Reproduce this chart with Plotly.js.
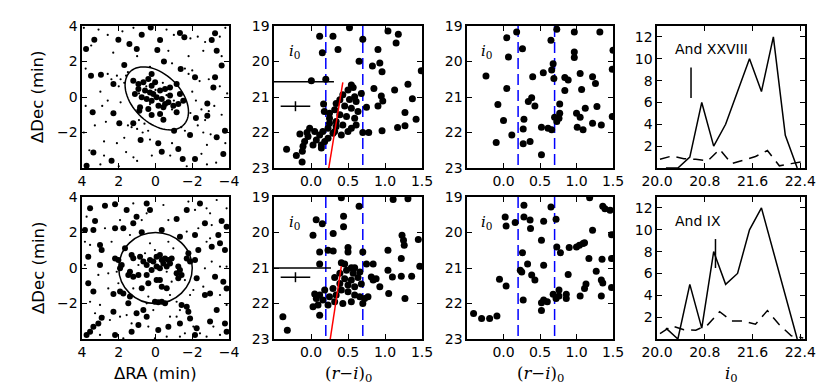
<!DOCTYPE html>
<html>
<head>
<meta charset="utf-8">
<script src="https://cdn.plot.ly/plotly-3.0.1.min.js"></script>
<style>
  html, body { margin: 0; padding: 0; background: #fff; }
  #chart { width: 830px; height: 391px; }
</style>
</head>
<body>
<div id="chart"></div>
<script>
/**************************************************************************/
/* Data                                               */
/**************************************************************************/

// And XXVIII field: bright and faint stars (dRA, dDec in arcmin)
const f1BrightX = [3.78, 3.33, 2.02, 1.42, 1.02, 0.75, 0.26, -0.10, -0.25, -1.33, -1.57, -3.24, -3.06, -3.33,
  1.70, -0.46, -1.37, -3.60, 3.51, 2.97, 2.29, -3.24, -3.15, -2.15, 3.42, 2.29, 1.97, 1.21, 0.88, 0.21,
  -0.43, -1.01, -1.88, -2.20, -2.82, -2.82, -3.78, -3.33, 0.81, -0.15, -0.34, -1.24, -1.48, 3.38, 2.39,
  3.75, -2.15, -3.69,
  1.21, 0.93, 0.66, 0.39, 0.21, 0.02, 0.57, 0.30, 0.12, -0.25, -0.52, -0.79, 0.75, 0.48, 0.21, -0.06,
  -0.34, -0.52, -0.70, -0.43, -0.16, -0.97, -1.24, -1.33, -1.15, 0.39, 0.93, 1.12, -1.51, -0.79, -0.25,
  0.84, 0.21, -1.15];
const f1BrightY = [2.70, 3.23, 3.23, 2.99, 2.70, 3.51, 3.92, 2.65, 3.21, 3.61, 3.36, 3.59, 3.21, 2.61,
  1.80, 2.00, 1.58, 1.77, 1.20, 1.26, 0.73, 1.11, 0.54, 1.11, -0.86, -0.92, -1.48, -1.48, -0.77, -1.01,
  -1.28, -1.90, -2.14, -1.18, -0.36, -1.05, -1.90, -2.27, -2.42, -2.61, -3.08, -2.93, -3.49, -3.12, -3.59,
  -3.87, -3.49, -3.21,
  0.92, 0.73, 0.83, 1.01, 0.64, 0.83, 0.36, 0.26, 0.17, 0.36, 0.45, 0.54, -0.02, -0.11, -0.21, -0.02,
  -0.11, -0.39, -0.30, -0.58, -0.49, -0.49, -0.39, 0.17, -0.86, -0.68, 0.45, 0.17, -0.21, 0.08, -0.96,
  -0.58, 1.30, 0.73];
const f1FaintX = [3.9, 3.1, 2.6, 1.8, 1.2, -0.6, -1.0, -1.9, -2.3, -2.7, -3.5, -3.8, 3.5, 2.3, 1.0, -0.7,
  -1.8, -2.6, -3.6, 3.8, 2.6, 2.1, 2.4, -2.0, -2.4, -2.9, -3.5, -3.9, 3.0, 2.6, 2.9, 3.8, -2.2, -2.5,
  -2.9, -3.2, -3.6, -2.7, 3.3, 2.7, 3.9, 1.5, 1.3, 1.0, 0.7, 0.4, -1.6, -2.3, -2.6, -3.0, 2.8, 2.1, 1.7,
  0.3, -0.9, -2.8, -3.8, 3.6, 2.8, 1.6, 1.2, 0.2, -0.8, -2.5, -3.3, 3.0, 2.0, 1.0, -1.7, -2.8,
  1.9, 1.7, 1.6, 1.5, 2.0, 1.9, -1.8, -1.6, -0.9, 0.3, -2.0, -1.9, -1.4, 0.6, 0.9,
  0.5, -0.4, -1.0, 0.0, 0.9, -0.6, 0.3, -0.9];
const f1FaintY = [3.9, 3.8, 3.5, 3.7, 3.9, 3.8, 3.5, 3.3, 3.4, 3.1, 3.4, 3.9, 2.9, 2.5, 2.3, 2.6,
  2.3, 2.6, 2.3, 1.6, 1.3, 1.2, 1.0, 1.5, 0.9, 1.0, 0.6, 0.2, 0.3, -0.2, -0.5, -0.5, -0.2, -0.7,
  -0.8, -0.5, -1.0, -1.3, -1.6, -1.4, -2.0, -1.6, -1.7, -1.8, -2.0, -1.9, -1.9, -1.6, -2.0, -2.1, -2.5, -2.6, -2.3,
  -2.4, -2.6, -2.7, -2.6, -3.0, -3.3, -3.1, -3.4, -3.3, -3.3, -3.2, -3.7, -3.8, -3.9, -3.6, -3.9, -3.8,
  1.0, 0.8, 1.2, 1.4, 0.6, -0.3, 1.3, 1.6, 1.9, 1.7, 0.3, -0.9, -1.7, -1.5, -1.3,
  0.6, 0.8, -0.2, 0.4, 0.2, 0.1, -0.4, -0.7];

// And IX field
const f2BrightX = [3.56, 3.29, 2.75, 2.20, 1.57, 1.03, 0.48, 0.30, -1.15, -1.70, -2.42, -2.69, -3.60, -3.87,
  3.84, 3.38, 2.20, 1.75, 1.21, 0.75, -0.34, -1.33, -2.15, -3.42, -2.33, -3.06, -3.51, -3.78,
  3.66, 3.02, 2.93, 3.02, 2.20, 1.66, 2.02, 3.66, 3.38, 2.29, 1.93, 1.75, 1.48, 1.39,
  1.30, 1.21, 0.84, 0.66, 0.48, 0.30, 0.12, -0.06, -0.24, -0.34, -0.52, -0.70, -0.79, -0.06, -0.24,
  -0.43, -0.61, -0.88, 0.21, 0.48, 0.93, 1.21, 1.48, -1.24, -1.33, -1.42, -1.24, -1.15, -0.24, -0.34,
  -0.61, -0.06, 0.39, 0.75, 1.39, 1.84, 1.93, -1.79, -1.70, -1.88, -2.15, -2.24,
  0.03, -0.15, -0.34, -0.52, -1.42, -1.70, -1.79, -1.88, -1.33,
  -3.24, -3.69, -2.97, -2.69, -3.87, -3.33,
  2.29, 2.93, 3.11, 3.38, 3.56, 1.03, 0.66, 0.48, 0.93, 1.30, -0.15, -0.70, -2.15, -2.24, -2.97,
  -3.78, -3.87, 2.20, 3.75];
const f2BrightY = [3.36, 2.65, 3.51, 3.59, 3.27, 2.89, 3.64, 3.27, 2.76, 3.27, 3.64, 2.52, 2.65, 2.33,
  2.14, 2.14, 2.24, 2.24, 2.52, 2.01, 2.14, 1.76, 1.86, 1.86, 1.01, 1.20, 1.39, 1.01,
  0.64, 1.30, 1.01, 0.17, 0.54, 1.11, 0.45, -0.86, -1.33, -1.46, -1.33, -1.43, -1.99, -1.61,
  0.73, 0.55, 0.64, 0.36, 0.17, 0.45, 0.36, 0.64, 0.73, 0.45, 0.54, 0.45, 0.26, 0.08, -0.02,
  0.26, 0.08, 0.54, -0.11, -0.39, -0.39, -0.49, -0.39, 0.08, -0.11, -0.39, -0.58, -0.30, -0.68, -1.05,
  -1.14, -0.68, -0.86, -1.14, -0.21, 0.17, -0.02, 0.83, 0.54, 0.36, 0.45, -0.58,
  -1.90, -1.93, -1.90, -1.99, -2.08, -2.18, -2.46, -2.84, -3.12,
  -0.49, -0.77, -1.43, -1.52, -1.15, -2.37,
  -2.46, -2.80, -3.12, -3.31, -3.59, -2.55, -2.37, -2.74, -3.21, -3.59, -3.49, -3.31, -3.77, -3.40, -3.02,
  -3.12, -3.59, -3.77, -3.77];
const f2FaintX = [2.80, 1.21, 0.75, -0.43, -1.79, -2.15, -2.78, -2.97, -3.33, -3.87, 3.75, 2.75, 1.93, 0.48,
  -0.70, -1.70, -2.33, -3.06, 3.84, 3.56, 2.39, 1.39, 0.30, -0.70, -0.97, -2.78, -2.97, -3.87, 3.84,
  3.11, 2.57, 2.11, 0.93, 0.57, 0.03, -0.61, -0.88, -1.60, -2.06, -2.69, -3.06, -3.51, 2.57, 2.02, 1.21,
  0.39, 0.48, -0.79, -1.15, -1.88, -2.60, -3.51, -3.87, 3.56, 3.02, 3.29, 2.84, 2.48, 1.93, 1.57, 1.30,
  0.39, 0.12, -0.79, -1.15, -1.33, -2.06, -2.42, -2.78, -3.15, -3.51, 3.02, 1.75, 0.03, -0.61, -1.33, -1.60];
const f2FaintY = [3.55, 3.64, 2.70, 3.55, 3.74, 3.27, 3.36, 3.08, 3.83, 3.36, 2.89, 2.24, 2.70, 3.08,
  2.70, 2.05, 2.24, 2.42, 1.48, 1.30, 1.48, 1.86, 1.39, 1.48, 1.11, 1.48, 1.67, 0.08, 0.17,
  -0.39, -0.30, -0.21, 0.17, 0.83, 1.01, -0.21, -0.77, -0.68, -1.24, -0.02, 0.36, 0.08, -1.15, -0.86, -1.15,
  -1.61, -1.99, -1.52, -1.90, -1.52, -1.05, -1.52, -2.08, -1.90, -2.08, -2.55, -2.74, -2.93, -2.74, -2.65, -3.12,
  -3.30, -2.37, -2.74, -2.74, -2.37, -3.30, -3.68, -3.87, -3.30, -3.77, -3.77, -3.96, -3.96, -3.87, -3.87, -3.68];

// Selection regions
const ellipseCentre = [-0.07, -0.08];
const ellipseAxes = [2.09, 1.33];
const ellipseAngleDeg = 47;
const circleRadius = 2;

// CMD, And XXVIII: on-target stars (r-i)0, i0
const cmd1X = [0.117, 0.153, 0.297, 0.365, 0.52, 0.70, 1.04, 1.18, 1.15, 0.905, 0.65, 0.83, 0.93, 0.96, 1.49,
  0.005, 0.20, 0.85, 1.13, 1.31, 1.37, 1.27, 1.42, 0.95, 0.97, 0.905, 0.75, 0.96, 1.17, 1.27, 0.78, 0.70,
  0.545, 0.57, 0.50, 0.59, 0.43, 0.52, 0.61, 0.39, 0.455, 0.34, 0.545, 0.635, 0.68, 0.32, 0.39, 0.48, 0.59,
  0.25, 0.17, 0.18, 0.25, 0.34, 0.43, 0.545, 0.50, 0.41, 0.32, 0.23, 0.16, 0.117, 0.05, -0.018, 0.072, 0.14,
  0.027, -0.04, -0.086, -0.15, -0.054, -0.108, 0.14, 0.23, 0.297, 0.34, -0.33, -0.198, -0.117, -0.12, 0.185,
  0.25, 0.61];
const cmd1Y = [19.29, 19.75, 19.29, 19.66, 19.05, 19.37, 19.14, 19.23, 19.48, 19.66, 19.99, 20.13, 20.04, 20.29, 20.26,
  20.54, 20.50, 20.76, 20.80, 20.64, 21.05, 21.44, 21.63, 20.97, 21.11, 21.25, 21.29, 21.95, 21.86, 21.81, 22.0, 22.0,
  20.66, 20.73, 20.80, 20.99, 20.94, 21.07, 21.13, 21.08, 21.25, 21.18, 21.32, 21.41, 20.90, 21.36, 21.50, 21.55, 21.60,
  21.60, 21.20, 21.41, 21.46, 21.69, 21.79, 21.88, 21.97, 22.07, 21.97, 21.88, 21.97, 22.07, 21.97, 21.88, 22.21, 22.35,
  22.35, 22.11, 22.25, 22.04, 22.0, 22.39, 22.44, 22.16, 22.02, 21.83, 22.47, 22.65, 22.53, 22.83, 22.25,
  21.74, 21.79];

// CMD, And XXVIII: comparison field
const bg1X = [0.18, 0.045, 0.068, 0.26, 0.65, 0.73, 0.97, 1.32, 1.50, 0.97, 0.97, 0.68, 0.66, 0.545, 0.69,
  0.40, -0.24, 0.045, 0.84, 0.886, 1.05, 1.22, 1.26, 1.07, 0.84, 1.49, -0.077, 0.386, 0.34, 0.43, 0.77,
  0.77, 0.70, 0.73, 0.76, 1.12, 1.28, 1.0, 1.05, 1.49, 1.34, 1.22, 1.01, 1.09, 0.0, 0.28, 0.27, 0.52,
  0.61, 0.66, 0.114, -0.10, 0.27, 0.364, 0.52];
const bg1Y = [19.17, 19.33, 19.87, 19.64, 19.40, 19.09, 19.17, 19.17, 19.68, 19.73, 19.89, 20.06, 20.24, 20.32, 20.48,
  20.43, 20.41, 20.76, 20.45, 20.52, 20.34, 20.43, 20.62, 20.79, 20.82, 20.22, 21.21, 21.02, 21.13, 21.25, 21.20,
  21.46, 21.57, 21.69, 21.60, 21.32, 21.27, 21.46, 21.57, 21.55, 21.79, 21.74, 21.85, 21.92, 21.66, 21.63, 21.90, 21.85,
  21.88, 21.92, 22.07, 22.28, 22.32, 22.25, 22.63];

// CMD, And IX: on-target stars
const cmd2X = [0.07, 0.153, 0.027, 0.30, 0.41, 0.44, 0.44, 0.65, 1.11, 1.31, 1.23, 1.25, 1.26, 1.45, 1.22, 1.04,
  0.117, 0.23, 0.30, 0.117, 0.50, 0.50, 0.70, 0.75, 0.84, 1.47,
  0.41, 0.455, 0.545, 0.59, 0.48, 0.39, 0.57, 0.66, 0.32, 0.455, 0.545, 0.635, 0.39, 0.50, 0.59, 0.68,
  0.297, 0.41, 0.50, 0.59, 0.66, 0.725, 0.77, 0.34, 0.25, 0.16, 0.117, 0.072, 0.05, 0.095, 0.23, 0.32,
  0.43, 0.545, 0.70, 0.027, 0.117, 0.185, 0.815, 0.84, 0.88, 0.93, 1.10, 1.04, 1.22, 1.36, 1.05, 1.27,
  -0.38, -0.32];
const cmd2Y = [19.64, 19.75, 20.08, 20.03, 19.02, 19.54, 19.84, 19.26, 19.07, 19.05, 20.08, 20.22, 20.36, 20.20, 20.73, 20.50,
  20.55, 20.50, 20.52, 20.89, 20.42, 20.55, 20.55, 20.89, 20.89, 20.95,
  20.85, 20.89, 20.99, 20.99, 21.06, 21.15, 21.15, 21.11, 21.27, 21.30, 21.34, 21.27, 21.44, 21.48, 21.53, 21.45,
  21.58, 21.62, 21.67, 21.76, 21.81, 21.86, 21.81, 21.76, 21.81, 21.90, 21.76, 21.86, 21.73, 22.04, 22.04, 21.95,
  22.0, 21.95, 22.0, 22.09, 22.33, 21.62, 21.25, 21.34, 21.30, 21.53, 21.25, 21.06, 21.23, 21.23, 21.72, 21.86,
  22.37, 22.75];

// CMD, And IX: comparison field
const bg2X = [0.28, 0.023, 0.036, 0.16, 0.28, 0.364, 0.37, 0.55, 0.65, 0.72, 1.18, 1.36, 1.39, 1.46, 1.48, 1.22,
  0.52, 0.73, 0.78, 0.90, 1.0, 1.04, 1.09, 1.11, 0.26, 1.17, 1.35, 1.48, 0.33, 0.55, 0.23, 0.25, 0.386, 0.43,
  0.886, 1.27, 1.34, 1.36, 1.13, 1.11, 1.48, -0.055, 0.036, 0.76, 0.68, 0.72, 0.76, 0.86, 0.86, 1.05, 1.34,
  0.27, 0.52, 0.55, 0.60, 0.52, -0.41, -0.30, -0.19, -0.09];
const bg2Y = [19.23, 19.56, 19.82, 19.72, 19.56, 19.65, 19.89, 19.68, 19.28, 19.63, 19.02, 19.26, 19.33, 19.37, 20.06, 19.94,
  20.22, 20.41, 20.57, 20.42, 20.41, 20.36, 20.31, 20.29, 20.57, 20.73, 20.75, 20.73, 20.89, 20.92, 21.06, 21.11, 21.20, 21.34,
  21.18, 21.09, 21.34, 21.42, 21.45, 21.58, 21.55, 21.32, 21.51, 21.62, 21.74, 21.86, 21.79, 21.74, 21.86, 21.79, 21.79,
  21.90, 21.98, 21.90, 21.95, 22.20, 22.28, 22.42, 22.42, 22.35];

// Colour cuts and reference lines on the CMDs
const colourCuts = [0.2, 0.7];
const trgb1 = { x: [-0.5, 0.31], y: [20.57, 20.57] };
const trgb2 = { x: [-0.5, 0.27], y: [21.0, 21.0] };
const iso1 = { x: [0.24, 0.43], y: [23.0, 20.59] };
const iso2 = { x: [0.26, 0.41], y: [23.0, 20.95] };
const errCentre = { x: [-0.21], y: [21.26] };
const errSize = { x: [0.2], y: [0.14] };

// Luminosity functions: i0 bins, on-target counts (solid) and field (dashed)
const lfBins = [20.15, 20.35, 20.55, 20.75, 20.95, 21.15, 21.35, 21.55, 21.75, 21.95, 22.15, 22.35];
const lf1Counts = [0, 0, 1, 6, 2, 4, 7, 10, 7, 12, 3, 0];
const lf2Counts = [1, 0, 5, 1, 8, 5, 6, 10, 12, 8, 4, 0];
const lfFieldBins = [20.05, 20.25, 20.45, 20.65, 20.85, 21.05, 21.25, 21.45, 21.65, 21.85, 22.05, 22.25, 22.45];
const lf1Field = [0.8, 1.1, 0.85, 0.8, 0.65, 1.7, 0.4, 0.75, 1.05, 1.6, 0.2, 0.4, 0.6];
const lf2Field = [0.5, 1.2, 0.85, 0.8, 1.3, 2.5, 1.65, 1.65, 1.35, 2.6, 1.3, 0.3, 0.1];
const lfMark1 = { x: [20.57, 20.57], y: [6.4, 9.2] };
const lfMark2 = { x: [20.98, 20.98], y: [6.5, 9.15] };

/**************************************************************************/
/* Traces                                                                 */
/**************************************************************************/
const ink = "#000000";
const blue = "#0000ff";
const red = "#ff0000";

function stars(x, y, size, xa, ya) {
  return { x: x, y: y, xaxis: xa, yaxis: ya, type: "scatter", mode: "markers",
    marker: { color: ink, size: size, line: { width: 0 } }, hoverinfo: "skip" };
}
function seg(p, xa, ya, color, dash, width) {
  return { x: p.x, y: p.y, xaxis: xa, yaxis: ya, type: "scatter", mode: "lines",
    line: { color: color, width: width || 1.5, dash: dash || "solid" }, hoverinfo: "skip" };
}
function cutLines(xa, ya) {
  return colourCuts.map(c => seg({ x: [c, c], y: [19, 23] }, xa, ya, blue, "11px,5px", 1.5));
}
function errorCross(xa, ya) {
  return { x: errCentre.x, y: errCentre.y, xaxis: xa, yaxis: ya, type: "scatter", mode: "markers",
    marker: { size: 1, color: "rgba(0,0,0,0)" },
    error_x: { type: "data", array: errSize.x, width: 0, thickness: 1.5, color: ink },
    error_y: { type: "data", array: errSize.y, width: 0, thickness: 1.5, color: ink },
    hoverinfo: "skip" };
}

const traces = [
  stars(f1FaintX, f1FaintY, 2.2, "x", "y"),
  stars(f1BrightX, f1BrightY, 6, "x", "y"),
  ...cutLines("x2", "y2"),
  seg(trgb1, "x2", "y2", ink),
  errorCross("x2", "y2"),
  stars(cmd1X, cmd1Y, 7, "x2", "y2"),
  seg(iso1, "x2", "y2", red),
  ...cutLines("x3", "y3"),
  stars(bg1X, bg1Y, 7, "x3", "y3"),
  seg({ x: lfBins, y: lf1Counts }, "x4", "y4", ink),
  seg({ x: lfFieldBins, y: lf1Field }, "x4", "y4", ink, "10px,7px"),
  seg(lfMark1, "x4", "y4", ink),

  stars(f2FaintX, f2FaintY, 2.2, "x5", "y5"),
  stars(f2BrightX, f2BrightY, 6, "x5", "y5"),
  ...cutLines("x6", "y6"),
  seg(trgb2, "x6", "y6", ink),
  errorCross("x6", "y6"),
  stars(cmd2X, cmd2Y, 7, "x6", "y6"),
  seg(iso2, "x6", "y6", red),
  ...cutLines("x7", "y7"),
  stars(bg2X, bg2Y, 7, "x7", "y7"),
  seg({ x: lfBins, y: lf2Counts }, "x8", "y8", ink),
  seg({ x: lfFieldBins, y: lf2Field }, "x8", "y8", ink, "10px,7px"),
  seg(lfMark2, "x8", "y8", ink)
];

// Tilted selection ellipse as a path shape
let ellPath = "";
const th = ellipseAngleDeg * Math.PI / 180;
for (let k = 0; k <= 72; k++) {
  const t = 2 * Math.PI * k / 72;
  const ex = ellipseCentre[0] + ellipseAxes[0] * Math.cos(t) * Math.cos(th) - ellipseAxes[1] * Math.sin(t) * Math.sin(th);
  const ey = ellipseCentre[1] + ellipseAxes[0] * Math.cos(t) * Math.sin(th) + ellipseAxes[1] * Math.sin(t) * Math.cos(th);
  ellPath += (k === 0 ? "M" : "L") + ex.toFixed(3) + "," + ey.toFixed(3);
}
ellPath += "Z";

/**************************************************************************/
/* Layout                                                                 */
/**************************************************************************/
const W = 830, H = 391;
const colsPx = [[82, 229], [274, 422], [467, 613], [657, 805]];
const rowsPx = [[26, 168], [197, 339]];
const dx = c => [colsPx[c][0] / W, colsPx[c][1] / W];
const dy = r => [1 - rowsPx[r][1] / H, 1 - rowsPx[r][0] / H];

function axis(domain, range, tickvals, anchor, extra) {
  return Object.assign({
    domain: domain, range: range, tickvals: tickvals, anchor: anchor,
    ticks: "inside", ticklen: 5, tickwidth: 1, tickcolor: ink,
    showline: true, linewidth: 1.6, linecolor: ink, mirror: "allticks",
    showgrid: false, zeroline: false, fixedrange: true,
    tickfont: { family: "DejaVu Sans", size: 14, color: ink }
  }, extra || {});
}

const raTicks = [4, 2, 0, -2, -4];
const decTicks = [-2, 0, 2, 4];
const colTicks = [0, 0.5, 1.0, 1.5];
const magTicks = [19, 20, 21, 22, 23];
const lfXTicks = [20.0, 20.8, 21.6, 22.4];
const lfYTicks = [2, 4, 6, 8, 10, 12];

const layout = {
  width: W, height: H,
  margin: { l: 0, r: 0, t: 0, b: 0 },
  paper_bgcolor: "#fff", plot_bgcolor: "#fff",
  showlegend: false,
  font: { family: "DejaVu Sans", color: ink },
  xaxis: axis(dx(0), [4, -4], raTicks, "y"),
  yaxis: axis(dy(0), [-4, 4], decTicks, "x"),
  xaxis2: axis(dx(1), [-0.5, 1.5], colTicks, "y2", { tickformat: ".1f" }),
  yaxis2: axis(dy(0), [23, 19], magTicks, "x2"),
  xaxis3: axis(dx(2), [-0.5, 1.5], colTicks, "y3", { tickformat: ".1f" }),
  yaxis3: axis(dy(0), [23, 19], magTicks, "x3"),
  xaxis4: axis(dx(3), [20.0, 22.48], lfXTicks, "y4", { tickformat: ".1f" }),
  yaxis4: axis(dy(0), [0, 13], lfYTicks, "x4"),
  xaxis5: axis(dx(0), [4, -4], raTicks, "y5"),
  yaxis5: axis(dy(1), [-4, 4], decTicks, "x5"),
  xaxis6: axis(dx(1), [-0.5, 1.5], colTicks, "y6", { tickformat: ".1f" }),
  yaxis6: axis(dy(1), [23, 19], magTicks, "x6"),
  xaxis7: axis(dx(2), [-0.5, 1.5], colTicks, "y7", { tickformat: ".1f" }),
  yaxis7: axis(dy(1), [23, 19], magTicks, "x7"),
  xaxis8: axis(dx(3), [20.0, 22.48], lfXTicks, "y8", { tickformat: ".1f" }),
  yaxis8: axis(dy(1), [0, 13], lfYTicks, "x8"),
  shapes: [
    { type: "path", xref: "x", yref: "y", path: ellPath, line: { color: ink, width: 1.5 } },
    { type: "circle", xref: "x5", yref: "y5", x0: -circleRadius, x1: circleRadius,
      y0: -circleRadius, y1: circleRadius, line: { color: ink, width: 1.5 } }
  ],
  annotations: []
};

// Axis titles as paper annotations
const titleFont = { family: "DejaVu Sans", size: 16.5, color: ink };
const mathFont = { family: "DejaVu Serif", size: 16.5, color: ink };
const paperNote = (text, px, py, font, rot) => ({
  text: text, xref: "paper", yref: "paper", x: px / W, y: 1 - py / H,
  xanchor: "center", yanchor: "middle", showarrow: false, font: font, textangle: rot || 0
});
layout.annotations.push(
  paperNote("ΔDec (min)", 38, 97, titleFont, -90),
  paperNote("ΔDec (min)", 38, 268, titleFont, -90),
  paperNote("ΔRA (min)", 155, 373, titleFont),
  paperNote("(<i>r</i>−<i>i</i>)<sub>0</sub>", 348, 374, mathFont),
  paperNote("(<i>r</i>−<i>i</i>)<sub>0</sub>", 540, 374, mathFont),
  paperNote("<i>i</i><sub>0</sub>", 731, 374, mathFont)
);

// In-panel labels
const labelFont = { family: "DejaVu Serif", size: 15, color: ink };
[["x2", "y2"], ["x3", "y3"], ["x6", "y6"], ["x7", "y7"]].forEach(function(p) {
  layout.annotations.push({ text: "<i>i</i><sub>0</sub>", xref: p[0], yref: p[1], x: -0.22, y: 19.72,
    xanchor: "center", yanchor: "middle", showarrow: false, font: labelFont });
});
layout.annotations.push(
  { text: "And XXVIII", xref: "x4", yref: "y4", x: 20.27, y: 10.9, xanchor: "left", yanchor: "middle",
    showarrow: false, font: { family: "DejaVu Sans", size: 14, color: ink } },
  { text: "And IX", xref: "x8", yref: "y8", x: 20.27, y: 10.8, xanchor: "left", yanchor: "middle",
    showarrow: false, font: { family: "DejaVu Sans", size: 14, color: ink } }
);

Plotly.newPlot("chart", traces, layout, { staticPlot: true, displayModeBar: false });
</script>
</body>
</html>
